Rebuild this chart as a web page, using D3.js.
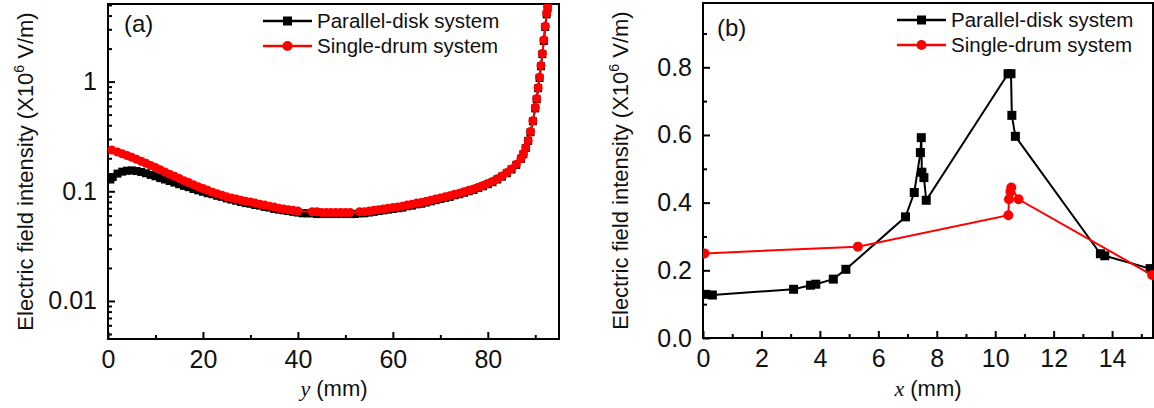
<!DOCTYPE html>
<html>
<head>
<meta charset="utf-8">
<script src="https://cdn.jsdelivr.net/npm/d3@7"></script>
<style>
  body { margin: 0; background: #fff; }
  text { font-family: "Liberation Sans", Arial, sans-serif; }
</style>
</head>
<body>
<script>
// ---- panel (a): field along y, log scale ----
const diskPosA = [0.5,1,2,3,4,5,6,7,8,9,10,11,12,13,14,15,16,17,18,19,20,21,22,23,24,25,26,27,28,29,30,31,32,33,34,35,36,37,38,39,40,41,42,43,44,45,46,47,48,49,50,51,52,53,54,55,56,57,58,59,60,61,62,63,64,65,66,67,68,69,70,71,72,73,74,75,76,77,78,79,80,81,82,83,84,85,86,87,87.5,88,88.5,89,89.5,90,90.3,90.6,90.9,91.2,91.5,91.8,92.1,92.4,92.6];
const diskValA = [0.128,0.135,0.145,0.151,0.154,0.155,0.153,0.150,0.146,0.141,0.137,0.132,0.128,0.124,0.120,0.116,0.112,0.109,0.105,0.102,0.099,0.096,0.094,0.091,0.089,0.086,0.084,0.082,0.080,0.078,0.077,0.075,0.074,0.072,0.071,0.069,0.068,0.067,0.066,0.065,0.064,0.063,0.063,0.063,0.062,0.062,0.062,0.062,0.062,0.062,0.062,0.062,0.062,0.063,0.063,0.064,0.065,0.066,0.067,0.068,0.069,0.070,0.071,0.073,0.074,0.076,0.077,0.079,0.081,0.083,0.085,0.087,0.089,0.092,0.094,0.097,0.100,0.103,0.107,0.111,0.116,0.121,0.128,0.136,0.146,0.158,0.174,0.198,0.218,0.248,0.288,0.345,0.435,0.57,0.69,0.87,1.08,1.38,1.78,2.35,3.15,4.1,4.7];

const drumPosA = [0.8,2,3,4,5,6,7,8,9,10,11,12,13,14,15,16,17,18,19,20,21,22,23,24,25,26,27,28,29,30,31,32,33,34,35,36,37,38,39,40,43,44,45,46,47,48,49,50,51,53,54,55,56,57,58,59,60,61,62,63,64,65,66,67,68,69,70,71,72,73,74,75,76,77,78,79,80,81,82,83,84,85,86,87,87.5,88,88.5,89,89.5,90,90.3,90.6,90.9,91.2,91.5,91.8,92.1,92.4,92.6];
const drumValA = [0.238,0.228,0.220,0.212,0.204,0.196,0.188,0.180,0.172,0.165,0.157,0.150,0.143,0.137,0.131,0.125,0.120,0.115,0.110,0.106,0.102,0.098,0.095,0.092,0.089,0.087,0.085,0.083,0.081,0.080,0.078,0.076,0.075,0.073,0.072,0.070,0.069,0.068,0.067,0.066,0.065,0.065,0.064,0.064,0.064,0.064,0.064,0.064,0.064,0.065,0.065,0.066,0.067,0.068,0.069,0.070,0.071,0.072,0.073,0.075,0.076,0.078,0.079,0.081,0.083,0.085,0.087,0.089,0.091,0.094,0.096,0.099,0.102,0.105,0.109,0.113,0.118,0.123,0.130,0.138,0.148,0.160,0.176,0.200,0.220,0.250,0.290,0.350,0.440,0.58,0.70,0.88,1.1,1.4,1.8,2.4,3.2,4.2,4.8];

const xTicksA = [0, 20, 40, 60, 80];
const xMinorA = [10, 30, 50, 70, 90];
const yTicksA = [0.01, 0.1, 1];

// ---- panel (b): field along x, linear scale ----
const diskPosB = [0.1,0.32,3.1,3.68,3.86,4.46,4.89,6.93,7.23,7.44,7.47,7.49,7.56,7.64,10.44,10.54,10.57,10.69,13.6,13.75,15.3];
const diskValB = [0.129,0.127,0.144,0.156,0.159,0.174,0.203,0.358,0.430,0.548,0.592,0.490,0.474,0.407,0.781,0.781,0.658,0.596,0.249,0.243,0.205];
const drumPosB = [0.05,5.3,10.45,10.47,10.52,10.55,10.8,15.37];
const drumValB = [0.250,0.270,0.363,0.410,0.432,0.445,0.410,0.186];

const xTicksB = [0, 2, 4, 6, 8, 10, 12, 14];
const xMinorB = [1, 3, 5, 7, 9, 11, 13, 15];
const yTicksB = [0.0, 0.2, 0.4, 0.6, 0.8];
const yMinorB = [0.1, 0.3, 0.5, 0.7, 0.9];

const seriesNames = ["Parallel-disk system", "Single-drum system"];
const colors = ["#000000", "#ff0000"];

const svg = d3.select("body").append("svg")
    .attr("width", 1154)
    .attr("height", 408);

const xa = d3.scaleLinear().domain([0, 95]).range([108, 559]);
const ya = d3.scaleLog().domain([0.0045, 5.1]).range([339, 4]);
const xb = d3.scaleLinear().domain([0, 15.4]).range([703, 1153]);
const yb = d3.scaleLinear().domain([0, 0.99]).range([338, 3]);

function styleAxis(g) {
    g.select(".domain").remove();
    g.selectAll(".tick line").attr("stroke", "#000").attr("stroke-width", 2);
    g.selectAll(".tick text")
        .attr("font-family", "'Liberation Sans', Arial, sans-serif")
        .attr("font-size", 25)
        .attr("fill", "#111");
}

function drawAxes(x, y, xTicks, xMinor, yTicks, yMinor, yFormat) {
    const [x0, x1] = x.range();
    const [y0, y1] = y.range();

    svg.append("g").attr("transform", `translate(0,${y0})`)
        .call(d3.axisBottom(x).tickValues(xMinor).tickSize(-4).tickFormat(""))
        .call(styleAxis);
    svg.append("g").attr("transform", `translate(0,${y0})`)
        .call(d3.axisBottom(x).tickValues(xTicks).tickSize(-7).tickPadding(11).tickFormat(d3.format("d")))
        .call(styleAxis);
    svg.append("g").attr("transform", `translate(${x0},0)`)
        .call(d3.axisLeft(y).tickValues(yMinor).tickSize(-4).tickFormat(""))
        .call(styleAxis);
    svg.append("g").attr("transform", `translate(${x0},0)`)
        .call(d3.axisLeft(y).tickValues(yTicks).tickSize(-7).tickPadding(11).tickFormat(yFormat))
        .call(styleAxis);

    svg.append("rect")
        .attr("x", x0).attr("y", y1)
        .attr("width", x1 - x0).attr("height", y0 - y1)
        .attr("fill", "none")
        .attr("stroke", "#000")
        .attr("stroke-width", 2);
}

function yTitle(xBase, yMid) {
    const t = svg.append("text")
        .attr("transform", `translate(${xBase},${yMid}) rotate(-90)`)
        .attr("text-anchor", "middle")
        .attr("font-size", 22)
        .attr("fill", "#111");
    t.append("tspan").text("Electric field intensity (X10");
    t.append("tspan").attr("font-size", 14).attr("dy", -9).text("6");
    t.append("tspan").attr("dy", 9).text(" V/m)");
}

function xTitle(letter, xMid, yBase) {
    const t = svg.append("text")
        .attr("x", xMid).attr("y", yBase)
        .attr("text-anchor", "middle")
        .attr("font-size", 22)
        .attr("fill", "#111");
    t.append("tspan")
        .attr("font-family", "'Liberation Serif', 'Times New Roman', serif")
        .attr("font-style", "italic")
        .text(letter);
    t.append("tspan").text(" (mm)");
}

function drawSeries(x, y, pos, val, color, shape, size, clipId) {
    const pts = pos.map((p, i) => [p, val[i]]);
    const g = svg.append("g").attr("clip-path", `url(#${clipId})`);
    g.append("path")
        .datum(pts)
        .attr("fill", "none")
        .attr("stroke", color)
        .attr("stroke-width", 2)
        .attr("d", d3.line().x(d => x(d[0])).y(d => y(d[1])));
    if (shape === "square") {
        g.selectAll("rect.m").data(pts).enter().append("rect")
            .attr("x", d => x(d[0]) - size / 2)
            .attr("y", d => y(d[1]) - size / 2)
            .attr("width", size).attr("height", size)
            .attr("fill", color);
    } else {
        g.selectAll("circle.m").data(pts).enter().append("circle")
            .attr("cx", d => x(d[0]))
            .attr("cy", d => y(d[1]))
            .attr("r", size / 2)
            .attr("fill", color);
    }
}

function legend(lx, ly, size) {
    seriesNames.forEach((name, i) => {
        const yy = ly + i * 25;
        svg.append("line")
            .attr("x1", lx).attr("x2", lx + 49)
            .attr("y1", yy).attr("y2", yy)
            .attr("stroke", colors[i]).attr("stroke-width", 2.5);
        if (i === 0) {
            svg.append("rect")
                .attr("x", lx + 24.5 - size / 2).attr("y", yy - size / 2)
                .attr("width", size).attr("height", size)
                .attr("fill", colors[i]);
        } else {
            svg.append("circle")
                .attr("cx", lx + 24.5).attr("cy", yy)
                .attr("r", size / 2 + 0.5)
                .attr("fill", colors[i]);
        }
        svg.append("text")
            .attr("x", lx + 54).attr("y", yy + 7)
            .attr("font-size", 20.5)
            .attr("fill", "#111")
            .text(name);
    });
}

const defs = svg.append("defs");
defs.append("clipPath").attr("id", "clipA").append("rect")
    .attr("x", 108).attr("y", 4).attr("width", 451).attr("height", 335);
defs.append("clipPath").attr("id", "clipB").append("rect")
    .attr("x", 703).attr("y", 3).attr("width", 451).attr("height", 335);

// panel (a)
const logMinorA = ya.ticks().filter(v => Math.abs(Math.log10(v) - Math.round(Math.log10(v))) > 1e-6);
drawAxes(xa, ya, xTicksA, xMinorA, yTicksA, logMinorA, d => String(d));
drawSeries(xa, ya, diskPosA, diskValA, colors[0], "square", 8, "clipA");
drawSeries(xa, ya, drumPosA, drumValA, colors[1], "circle", 9, "clipA");
legend(263, 21, 9);
svg.append("text").attr("x", 124).attr("y", 32).attr("font-size", 24).attr("fill", "#111").text("(a)");
yTitle(33, 171.5);
xTitle("y", 334, 396);

// panel (b)
drawAxes(xb, yb, xTicksB, xMinorB, yTicksB, yMinorB, d3.format(".1f"));
drawSeries(xb, yb, diskPosB, diskValB, colors[0], "square", 9, "clipB");
drawSeries(xb, yb, drumPosB, drumValB, colors[1], "circle", 10, "clipB");
legend(897, 20, 9);
svg.append("text").attr("x", 717).attr("y", 36).attr("font-size", 24).attr("fill", "#111").text("(b)");
yTitle(628, 170.5);
xTitle("x", 928, 396);
</script>
</body>
</html>
